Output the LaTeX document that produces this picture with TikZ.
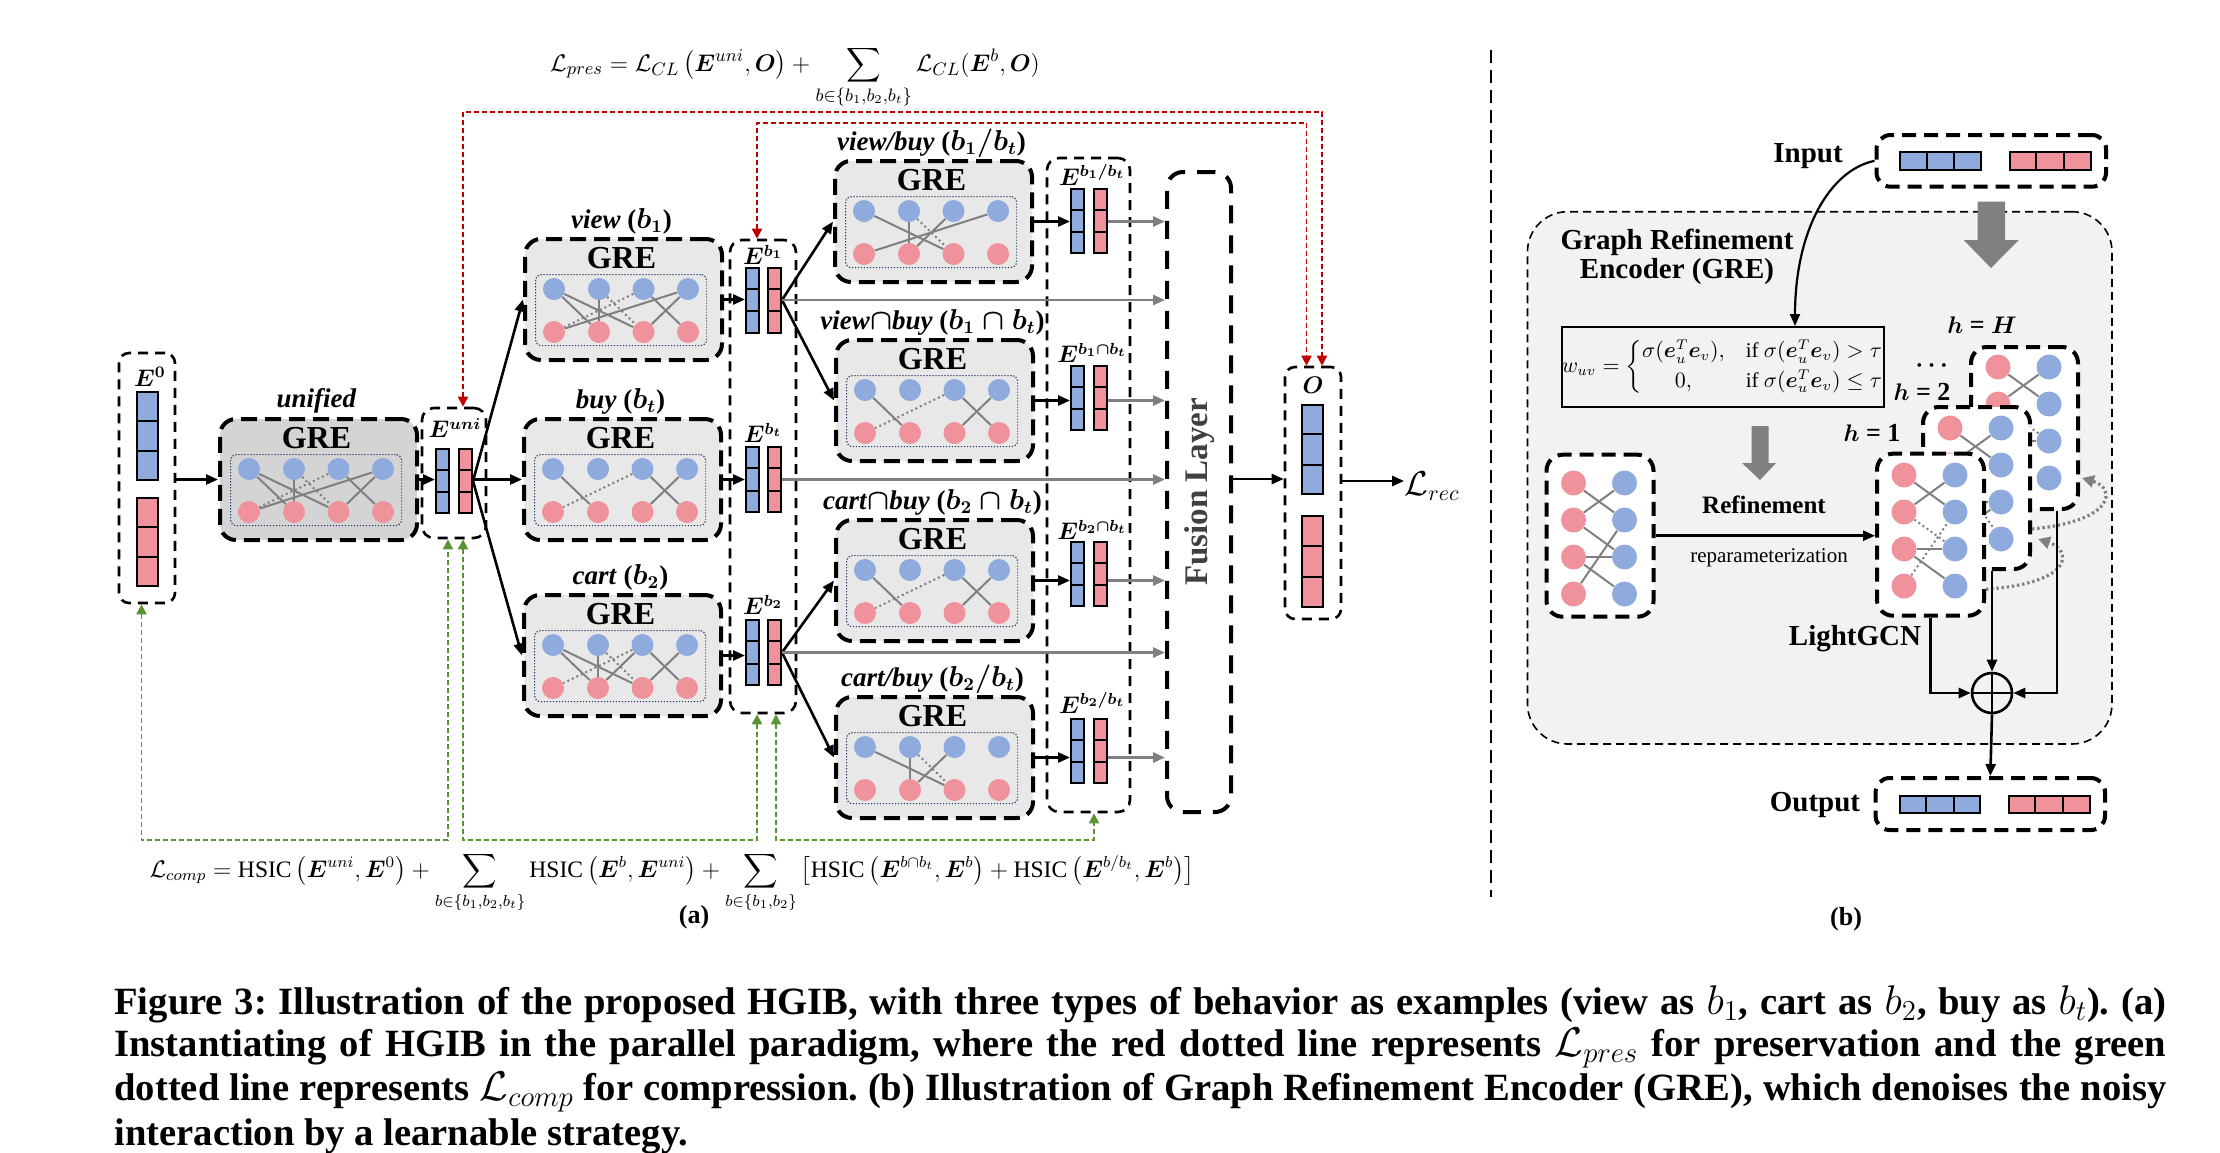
\documentclass[tikz,border=0pt]{standalone}
\usepackage{fontspec}
\setmainfont{Liberation Serif}
\usepackage{amsmath}
\usepackage{bm}
\usetikzlibrary{arrows.meta,calc}
\newcommand{\fsz}[1]{\fontsize{#1}{#1}\selectfont}
\def\px{0.5pt}
\definecolor{vblue}{HTML}{8FAADC}
\definecolor{vred}{HTML}{F0929C}
\definecolor{grefill}{HTML}{E8E8E8}
\definecolor{unifill}{HTML}{D4D4D4}
\definecolor{navy}{HTML}{203864}
\definecolor{dred}{HTML}{C00000}
\definecolor{dgreen}{HTML}{5A9332}
\definecolor{edgegray}{HTML}{808080}
\definecolor{panelbg}{HTML}{F2F2F2}
\definecolor{fusgray}{HTML}{404040}
\tikzset{
  grebox/.style={draw=black, line width=2pt, dash pattern=on 8pt off 4pt, rounded corners=8pt,
    minimum width=197*\px, minimum height=121*\px, inner sep=0pt},
  inbox/.style={draw=navy, line width=0.6pt, dash pattern=on 0.6pt off 0.9pt, rounded corners=3pt,
    minimum width=171*\px, minimum height=71*\px, inner sep=0pt},
  bcirc/.style={circle, fill=vblue, minimum size=22*\px, inner sep=0pt},
  rcirc/.style={circle, fill=vred, minimum size=22*\px, inner sep=0pt},
  bcircb/.style={circle, fill=vblue, minimum size=25*\px, inner sep=0pt},
  rcircb/.style={circle, fill=vred, minimum size=25*\px, inner sep=0pt},
  gedge/.style={draw=edgegray, line width=1pt},
  gdot/.style={draw=edgegray, line width=1pt, dash pattern=on 1pt off 1.5pt},
  vecbox/.style={draw=black, line width=1pt, inner sep=0pt},
  vecline/.style={draw=black, line width=1pt},
  colbox/.style={draw=black, line width=1.3pt, dash pattern=on 5pt off 3.5pt, rounded corners=6pt, inner sep=0pt},
  fusionbox/.style={draw=black, line width=2pt, dash pattern=on 9pt off 6pt, rounded corners=8pt, inner sep=0pt},
  bipbox/.style={draw=black, fill=white, line width=2pt, dash pattern=on 7pt off 4pt, rounded corners=8pt,
    minimum width=107*\px, minimum height=162*\px, inner sep=0pt},
  iobox/.style={draw=black, line width=2pt, dash pattern=on 7pt off 4pt, rounded corners=7pt, inner sep=0pt},
  blkarrow/.style={draw=black, line width=1.3pt, -{Triangle[length=6pt,width=5pt]}},
  grayarrow/.style={draw=edgegray, line width=1.4pt, -{Triangle[length=6pt,width=5pt]}},
  redline/.style={draw=dred, line width=0.9pt, dash pattern=on 2.5pt off 1.5pt,
    {Triangle[length=5pt,width=5pt]}-{Triangle[length=5pt,width=5pt]}},
  greenline/.style={draw=dgreen, line width=0.9pt, dash pattern=on 2.5pt off 1.5pt,
    {Triangle[length=5pt,width=5pt]}-{Triangle[length=5pt,width=5pt]}},
  gdotarrow/.style={draw=edgegray, line width=1.6pt, dash pattern=on 1.2pt off 1.4pt,
    -{Triangle[length=6pt,width=6pt]}},
  grelabel/.style={font=\bfseries\boldmath\fsz{13.5}, inner sep=0pt},
  gretext/.style={font=\bfseries\fsz{16}, inner sep=0pt},
  elab/.style={font=\boldmath\fsz{12}, inner sep=0pt},
  blab/.style={font=\bfseries\fsz{14.5}, inner sep=0pt},
  capline/.style={font=\bfseries\fsz{19.3}\frenchspacing, inner sep=0pt, anchor=west},
}
% GRE block: name, x, y (top-left), fill, label, solid edges, dotted edges
\newcommand{\greblk}[7]{%
  \node[grebox, fill=#4, anchor=north west] (#1) at (#2,#3) {};
  \node[grelabel] (#1-lab) at ({#2+98.5},{#3-16}) {#5};
  \node[gretext] (#1-t) at ({#2+98.5},{#3+21}) {GRE};
  \node[inbox, anchor=north west] (#1-in) at ({#2+12},{#3+37}) {};
  \foreach \i/\xo in {1/31,2/76,3/120.5,4/165}{
    \node[bcirc] (#1-B\i) at ({#2+\xo},{#3+52}) {};
    \node[rcirc] (#1-R\i) at ({#2+\xo},{#3+95}) {};
  }
  \foreach \a/\b in {#6} \draw[gedge] (#1-B\a) -- (#1-R\b);
  \foreach \a/\b in {#7} \draw[gdot] (#1-B\a) -- (#1-R\b);
}
% vertical 3-cell vector: name, cx, cy, w, h, colour
\newcommand{\vvec}[6]{%
  \node[vecbox, fill=#6, minimum width=#4*\px, minimum height=#5*\px] (#1) at (#2,#3) {};
  \draw[vecline] ($(#1.north west)!1/3!(#1.south west)$) -- ($(#1.north east)!1/3!(#1.south east)$);
  \draw[vecline] ($(#1.north west)!2/3!(#1.south west)$) -- ($(#1.north east)!2/3!(#1.south east)$);
}
% horizontal 3-cell vector
\newcommand{\hvec}[6]{%
  \node[vecbox, fill=#6, minimum width=#4*\px, minimum height=#5*\px] (#1) at (#2,#3) {};
  \draw[vecline] ($(#1.north west)!1/3!(#1.north east)$) -- ($(#1.south west)!1/3!(#1.south east)$);
  \draw[vecline] ($(#1.north west)!2/3!(#1.north east)$) -- ($(#1.south west)!2/3!(#1.south east)$);
}
% bipartite box: name, x, y (top-left), first y offset, solid edges, dotted edges (red/blue)
\newcommand{\bip}[6]{%
  \node[bipbox, anchor=north west] (#1) at (#2,#3) {};
  \foreach \i in {1,2,3,4}{
    \node[rcircb] (#1-R\i) at ({#2+29},{#3+#4+37*(\i-1)}) {};
    \node[bcircb] (#1-B\i) at ({#2+80},{#3+#4+37*(\i-1)}) {};
  }
  \foreach \a/\b in {#5} \draw[gedge] (#1-R\a) -- (#1-B\b);
  \if\relax\detokenize{#6}\relax\else\foreach \a/\b in {#6} \draw[gdot] (#1-R\a) -- (#1-B\b);\fi
}
\begin{document}
\begin{tikzpicture}[x=0.5pt,y=-0.5pt]
\useasboundingbox (0,0) rectangle (2220,1152);
\fill[white] (0,0) rectangle (2220,1152);

% ---------------- panel (a) ----------------
\node[font=\fsz{13}, anchor=base, inner sep=0pt] (lpres) at (795,71)
  {$\displaystyle \mathcal{L}_{pres}=\mathcal{L}_{CL}\left(\bm{E}^{uni},\bm{O}\right)+\sum_{b\in\{b_1,b_2,b_t\}}\mathcal{L}_{CL}(\bm{E}^{b},\bm{O})$};

% E^0
\node[colbox, rounded corners=5pt, minimum width=56*\px, minimum height=250*\px] (e0box) at (147,478) {};
\node[elab] (e0lab) at (150,377) {$\bm{E}^0$};
\vvec{e0b}{147.25}{436}{20.5}{88}{vblue}
\vvec{e0r}{147.25}{542}{20.5}{88}{vred}

\greblk{guni}{218}{417}{unifill}{\textit{unified}}{1/2,1/3,2/2,3/4,4/1,4/3}{2/3,3/1}

% E^uni
\node[colbox, minimum width=64*\px, minimum height=130*\px] (eunibox) at (454,473) {};
\node[elab] (eunilab) at (455,428) {$\bm{E}^{uni}$};
\vvec{eunib}{442.5}{481}{13}{64}{vblue}
\vvec{eunir}{465.5}{481}{13}{64}{vred}

\greblk{gview}{523}{237}{grefill}{\textit{view} ($b_1$)}{1/2,1/3,2/2,3/4,4/1,4/3}{2/3,3/1}
\greblk{gbuy}{522}{417}{grefill}{\textit{buy} ($b_t$)}{1/2,3/4,4/3}{3/1}
\greblk{gcart}{522}{593}{grefill}{\textit{cart} ($b_2$)}{1/2,1/3,2/2,3/2,3/4,4/3}{2/3,3/1}

% E^b column
\node[colbox, minimum width=66*\px, minimum height=473*\px] (ebbox) at (763,476.5) {};
\node[elab] (eb1lab) at (763,255) {$\bm{E}^{b_1}$};
\node[elab] (ebtlab) at (763,433) {$\bm{E}^{b_t}$};
\node[elab] (eb2lab) at (763,605) {$\bm{E}^{b_2}$};
\vvec{eb1b}{752.5}{300}{13}{65}{vblue}
\vvec{eb1r}{774.5}{300}{13}{65}{vred}
\vvec{ebtb}{752.5}{479.5}{13}{65}{vblue}
\vvec{ebtr}{774.5}{479.5}{13}{65}{vred}
\vvec{eb2b}{752.5}{652.5}{13}{65}{vblue}
\vvec{eb2r}{774.5}{652.5}{13}{65}{vred}

\greblk{gvb}{833}{159}{grefill}{\textit{view/buy} ($b_1/b_t$)}{1/3,2/2,3/2,4/1}{2/3}
\greblk{gvib}{834}{338}{grefill}{\textit{view}$\cap$\textit{buy} ($b_1\cap b_t$)}{1/2,3/4,4/3}{3/1}
\greblk{gcib}{834}{518}{grefill}{\textit{cart}$\cap$\textit{buy} ($b_2\cap b_t$)}{1/2,3/4,4/3}{3/1}
\greblk{gcb}{834}{695}{grefill}{\textit{cart/buy} ($b_2/b_t$)}{1/3,2/2,3/2}{2/3}

% right column
\node[colbox, minimum width=83*\px, minimum height=654*\px] (rcol) at (1088.5,485) {};
\node[elab] (rl1) at (1092,175) {$\bm{E}^{b_1/b_t}$};
\node[elab] (rl2) at (1092,353) {$\bm{E}^{b_1\cap b_t}$};
\node[elab] (rl3) at (1092,530) {$\bm{E}^{b_2\cap b_t}$};
\node[elab] (rl4) at (1092,703) {$\bm{E}^{b_2/b_t}$};
\vvec{rv1b}{1077.5}{221}{13}{64}{vblue}
\vvec{rv1r}{1100.5}{221}{13}{64}{vred}
\vvec{rv2b}{1077.5}{397.5}{13}{64}{vblue}
\vvec{rv2r}{1100.5}{397.5}{13}{64}{vred}
\vvec{rv3b}{1077.5}{574}{13}{64}{vblue}
\vvec{rv3r}{1100.5}{574}{13}{64}{vred}
\vvec{rv4b}{1077.5}{750.5}{13}{64}{vblue}
\vvec{rv4r}{1100.5}{750.5}{13}{64}{vred}

% fusion
\node[fusionbox, minimum width=64*\px, minimum height=640*\px] (fusion) at (1199,492) {};
\node[rotate=90, font=\bfseries\fsz{16.5}, text=fusgray, inner sep=0pt] (fustext) at (1200,492) {Fusion Layer};

% O
\node[colbox, rounded corners=5pt, minimum width=56*\px, minimum height=252*\px] (obox) at (1313,493) {};
\node[elab] (olab) at (1313,385) {$\bm{O}$};
\vvec{ob}{1312.5}{449.5}{21}{89}{vblue}
\vvec{or}{1312.5}{561.5}{21}{91}{vred}
\node[font=\fsz{16}, inner sep=0pt] (lrec) at (1432,486) {$\mathcal{L}_{rec}$};

% arrows
\draw[blkarrow] (e0box.east |- guni.west) -- (guni.west);
\draw[blkarrow] (guni.east) -- (guni.east -| eunib.west);
\draw[blkarrow] (eunir.east) -- (gview.west);
\draw[blkarrow] (eunir.east |- gbuy.west) -- (gbuy.west);
\draw[blkarrow] (eunir.east) -- (gcart.west);
\draw[blkarrow] (gview.east) -- (gview.east -| eb1b.west);
\draw[blkarrow] (gbuy.east) -- (gbuy.east -| ebtb.west);
\draw[blkarrow] (gcart.east) -- (gcart.east -| eb2b.west);
\draw[blkarrow] (eb1r.east) -- (gvb.west);
\draw[blkarrow] (eb1r.east) -- (gvib.west);
\draw[blkarrow] (eb2r.east) -- (gcib.west);
\draw[blkarrow] (eb2r.east) -- (gcb.west);
\draw[grayarrow] (eb1r.east) -- (eb1r.east -| fusion.west);
\draw[grayarrow] (ebtr.east) -- (ebtr.east -| fusion.west);
\draw[grayarrow] (eb2r.east) -- (eb2r.east -| fusion.west);
\draw[blkarrow] (gvb.east) -- (gvb.east -| rv1b.west);
\draw[blkarrow] (gvib.east) -- (gvib.east -| rv2b.west);
\draw[blkarrow] (gcib.east) -- (gcib.east -| rv3b.west);
\draw[blkarrow] (gcb.east) -- (gcb.east -| rv4b.west);
\draw[grayarrow] (rv1r.east |- gvb.east) -- (gvb.east -| fusion.west);
\draw[grayarrow] (rv2r.east |- gvib.east) -- (gvib.east -| fusion.west);
\draw[grayarrow] (rv3r.east |- gcib.east) -- (gcib.east -| fusion.west);
\draw[grayarrow] (rv4r.east |- gcb.east) -- (gcb.east -| fusion.west);
\coordinate (farr) at ($(fusion.east)+(0,-13)$);
\draw[blkarrow] (farr) -- (farr -| obox.west);
\coordinate (oarr) at ($(obox.east)+(0,-12)$);
\draw[blkarrow] (oarr) -- (oarr -| lrec.west);

% red preservation lines
\draw[redline] ($(eunibox.north)+(9,0)$) |- (1322,112) -- ($(obox.north)+(9,0)$);
\draw[redline] ($(ebbox.north)+(-6,0)$) |- (1306.5,123) -- ($(obox.north)+(-6.5,0)$);
% green compression lines
\draw[greenline] ($(e0box.south)+(-5.5,0)$) |- (448,840) -- ($(eunibox.south)+(-6,0)$);
\draw[greenline] ($(eunibox.south)+(9,0)$) |- (757,840) -- ($(ebbox.south)+(-6,0)$);
\draw[greenline] ($(ebbox.south)+(13,0)$) |- (1094,840) -- ($(rcol.south)+(5.5,0)$);

\node[font=\fsz{11.8}, anchor=base, inner sep=0pt] (lcomp) at (672,877)
  {$\displaystyle \mathcal{L}_{comp}=\text{HSIC}\left(\bm{E}^{uni},\bm{E}^{0}\right)+\sum_{b\in\{b_1,b_2,b_t\}}\text{HSIC}\left(\bm{E}^{b},\bm{E}^{uni}\right)+\sum_{b\in\{b_1,b_2\}}\left[\text{HSIC}\left(\bm{E}^{b\cap b_t},\bm{E}^{b}\right)+\text{HSIC}\left(\bm{E}^{b/b_t},\bm{E}^{b}\right)\right]$};
\node[font=\bfseries\fsz{13}, inner sep=0pt] (capa) at (694,917) {(a)};

% separator
\coordinate (sepT) at (1491,50);
\coordinate (sepB) at (1491,897);
\draw[line width=1.4pt, dash pattern=on 6.5pt off 3.5pt] (sepT) -- (sepB);

% ---------------- panel (b) ----------------
\node[draw=black, fill=panelbg, line width=0.8pt, dash pattern=on 4pt off 2.5pt, rounded corners=20pt,
  minimum width=584.5*\px, minimum height=532.3*\px, inner sep=0pt] (pbg) at (1819.75,477.85) {};
\node[blab, align=center] (gretitle) at (1677,257)
  {\fontsize{14.5}{17}\selectfont Graph Refinement\\ Encoder (GRE)};

\node[blab] (inlab) at (1808,156) {Input};
\node[iobox, minimum width=229.5*\px, minimum height=51.7*\px] (inbox) at (1991.25,160.85) {};
\hvec{inb}{1940.5}{160.85}{81}{18.3}{vblue}
\hvec{inr}{2050.3}{160.85}{81}{18.3}{vred}
\fill[edgegray] (1977.5,201.7) -- (2005,201.7) -- (2005,240) -- (2018.8,240) -- (1991,268) -- (1963.7,240) -- (1977.5,240) -- cycle;

\node[draw=black, line width=1pt, minimum width=316*\px, minimum height=80*\px, inner sep=0pt, font=\fsz{10.5}] (wbox) at (1723,367)
  {$w_{uv}=\left\{\begin{array}{@{}c@{\quad}l@{}}\sigma(\bm{e}_u^T\bm{e}_v), & \text{if }\sigma(\bm{e}_u^T\bm{e}_v)>\tau\\[3pt] 0, & \text{if }\sigma(\bm{e}_u^T\bm{e}_v)\le\tau\end{array}\right.$};
\draw[draw=black, line width=1.1pt, -{Triangle[length=6pt,width=5pt]}] (inbox.west) .. controls (1830,170) and (1795,230) .. ($(wbox.north)+(72,0)$);
\fill[edgegray] (1751.6,426) -- (1768.6,426) -- (1768.6,463) -- (1776,463) -- (1760,480) -- (1742,463) -- (1751.6,463) -- cycle;

\bip{lb}{1544.5}{452.7}{30.3}{1/2,2/1,2/3,3/3,3/4,4/2}{}
\node[font=\bfseries\fsz{12.5}, inner sep=0pt] (refl) at (1764,505) {Refinement};
\node[font=\fsz{10.5}, inner sep=0pt] (repl) at (1769,558) {reparameterization};

\bip{hH}{1969}{345}{22}{1/2,2/1,3/3}{2/3}
\bip{h2}{1921}{405}{23}{1/2,2/1,3/3,4/3}{2/4}
\bip{h1}{1875}{451.7}{23.3}{1/2,2/1,3/3,3/4}{2/3,4/2}
\draw[blkarrow] (lb.east) -- (lb.east -| h1.west);

\node[font=\bfseries\boldmath\fsz{13}, inner sep=0pt] (lH) at (1982,325) {$h$ = $H$};
\node[font=\bfseries\boldmath\fsz{13}, inner sep=0pt] (l2) at (1922,392) {$h$ = 2};
\node[font=\bfseries\boldmath\fsz{13}, inner sep=0pt] (l1) at (1872,433) {$h$ = 1};
\node[font=\bfseries\boldmath\fsz{13}, inner sep=0pt] (ldots) at (1934,366) {$\cdots$};

\draw[gdotarrow] ($(h1.east)+(0,54.5)$) .. controls (2075,583) and (2072,550) .. ($(h2.east)+(6,51)$);
\draw[gdotarrow] ($(h2.east)+(0,41)$) .. controls (2116,521) and (2116,488) .. ($(hH.east)+(2,50)$);

\node[circle, draw=black, line width=1.3pt, minimum size=40*\px, inner sep=0pt] (sum) at (1992,693) {};
\draw[line width=1.3pt] (sum.north) -- (sum.south);
\draw[line width=1.3pt] (sum.west) -- (sum.east);
\draw[blkarrow] (h1.south) |- (sum.west);
\draw[blkarrow] (h2.south -| sum.north) -- (sum.north);
\draw[blkarrow] ($(hH.south east)+(-23,0)$) |- (sum.east);
\node[blab] (lgcn) at (1855,639) {LightGCN};

\node[blab] (outlab) at (1815,805) {Output};
\node[iobox, minimum width=229.4*\px, minimum height=52*\px] (outbox) at (1990.3,804) {};
\hvec{outb}{1939.75}{804.35}{80.5}{17.3}{vblue}
\hvec{outr}{2049.35}{804.35}{81.3}{17.3}{vred}
\draw[blkarrow] (sum.south) -- (outbox.north);

\node[font=\bfseries\fsz{13}, inner sep=0pt] (capb) at (1846,919) {(b)};

% ---------------- caption ----------------
\node[capline] (cap1) at (114,1004) {\makebox[1026pt][s]{Figure 3: Illustration of the proposed HGIB, with three types of behavior as examples (view as $b_1$, cart as $b_2$, buy as $b_t$). (a)}};
\node[capline] (cap2) at (114,1048) {\makebox[1026pt][s]{Instantiating of HGIB in the parallel paradigm, where the red dotted line represents $\mathcal{L}_{pres}$ for preservation and the green}};
\node[capline] (cap3) at (114,1092) {\makebox[1026pt][s]{dotted line represents $\mathcal{L}_{comp}$ for compression. (b) Illustration of Graph Refinement Encoder (GRE), which denoises the noisy}};
\node[capline] (cap4) at (114,1136) {interaction by a learnable strategy.};
\end{tikzpicture}
\end{document}
